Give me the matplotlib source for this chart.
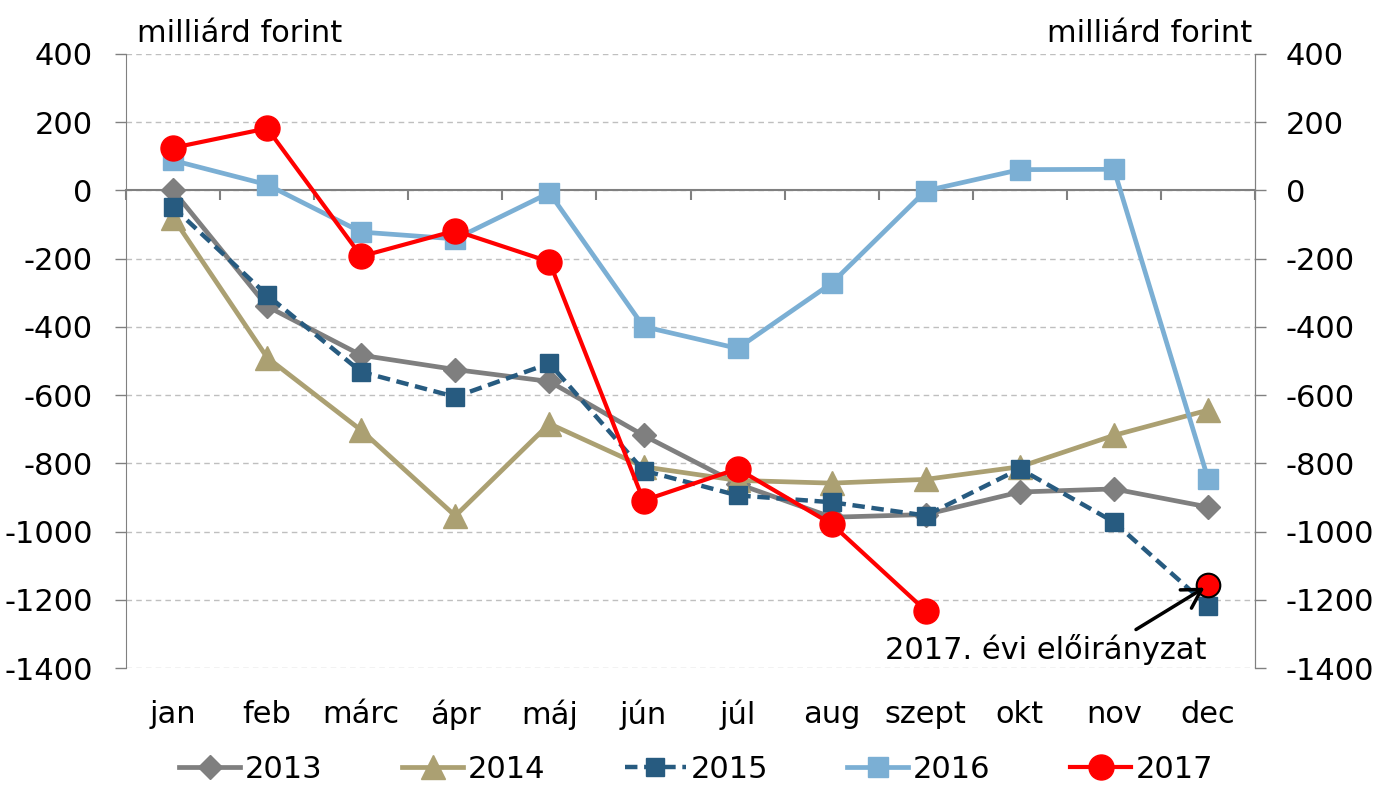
import numpy as np
import matplotlib
matplotlib.use('Agg')
import matplotlib.pyplot as plt

plt.rcParams['font.family'] = ['DejaVu Sans']
plt.rcParams['font.size'] = 22
plt.rcParams['axes.unicode_minus'] = False

# data, milliárd forint
months = ['jan', 'feb', 'márc', 'ápr', 'máj', 'jún', 'júl', 'aug', 'szept', 'okt', 'nov', 'dec']
y2013 = [0, -340, -483, -525, -560, -718, -860, -958, -950, -884, -875, -928]
y2014 = [-80, -490, -703, -954, -684, -810, -850, -858, -847, -810, -718, -644]
y2015 = [-49, -307, -532, -605, -507, -821, -894, -914, -953, -816, -972, -1218]
y2016 = [88, 17, -122, -142, -7, -399, -463, -272, -1, 61, 62, -845]
y2017 = [125, 182, -193, -118, -209, -909, -816, -978, -1232]
eloiranyzat_2017 = -1158

x = np.arange(len(months))

fig = plt.figure(figsize=(13.76, 7.86), dpi=100)
ax = fig.add_axes([0.0916, 0.1501, 0.8205, 0.7812])

ax.plot(x, y2013, color='#7F7F7F', lw=3.4, marker='D', ms=12.5, label='2013', zorder=3)
ax.plot(x, y2014, color='#ABA072', lw=3.4, marker='^', ms=17, label='2014', zorder=4)
ax.plot(x, y2015, color='#275B80', lw=3.2, ls=(0, (2.8, 1.5)), marker='s', ms=13.5,
        label='2015', zorder=5)
ax.plot(x, y2016, color='#7BAFD4', lw=3.4, marker='s', ms=14, label='2016', zorder=6)
ax.plot(x[:len(y2017)], y2017, color='#FF0000', lw=3.0, marker='o', ms=18,
        label='2017', zorder=7)
ax.plot(x[-1], eloiranyzat_2017, ls='none', marker='o', ms=17, mfc='#FF0000',
        mec='black', mew=1.5, zorder=8)

ax.annotate('2017. évi előirányzat', xy=(x[-1], eloiranyzat_2017), xytext=(9.28, -1345),
            ha='center', va='center', fontsize=22,
            arrowprops=dict(arrowstyle='->,head_length=0.6,head_width=0.35', color='black',
                            lw=2.5, relpos=(0.75, 0.95), shrinkA=2, shrinkB=3),
            zorder=9)

# axes
ax.set_xlim(-0.5, len(months) - 0.5)
ax.set_ylim(-1400, 400)
ax.set_yticks(np.arange(-1400, 401, 200))
ax.yaxis.grid(True, color='#BFBFBF', lw=1, ls=(0, (4, 3)))
ax.set_axisbelow(True)

ax.spines['top'].set_visible(False)
ax.spines['left'].set_color('#808080')
ax.spines['right'].set_color('#808080')
ax.spines['bottom'].set_position(('data', 0))
ax.spines['bottom'].set_color('#808080')
ax.spines['bottom'].set_linewidth(1.5)
ax.set_xticks(np.arange(-0.5, len(months), 1))
ax.set_xticklabels([])
ax.tick_params(axis='x', direction='out', length=7, width=1.5, color='#808080')
ax.tick_params(axis='y', direction='out', length=8, width=1, color='#808080', pad=16)

sec = ax.secondary_xaxis('bottom')
sec.set_xticks(x, months)
sec.tick_params(length=0, pad=23, labelsize=22)
sec.spines['bottom'].set_visible(False)

ax2 = ax.twinx()
ax2.set_ylim(ax.get_ylim())
ax2.set_yticks(np.arange(-1400, 401, 200))
ax2.tick_params(axis='y', direction='out', length=8, width=1, color='#808080', pad=14)
for s in ['top', 'left', 'bottom']:
    ax2.spines[s].set_visible(False)
ax2.spines['right'].set_color('#808080')

ax.text(0.0097, 1.02, 'milliárd forint', transform=ax.transAxes, ha='left', va='baseline')
ax.text(0.9973, 1.02, 'milliárd forint', transform=ax.transAxes, ha='right', va='baseline')

fig.legend(*ax.get_legend_handles_labels(), loc='center', bbox_to_anchor=(0.506, 0.021),
           ncol=5, frameon=False, handlelength=2.0, handletextpad=0.15, columnspacing=2.6,
           fontsize=22)

plt.savefig('out.png', dpi=100)
